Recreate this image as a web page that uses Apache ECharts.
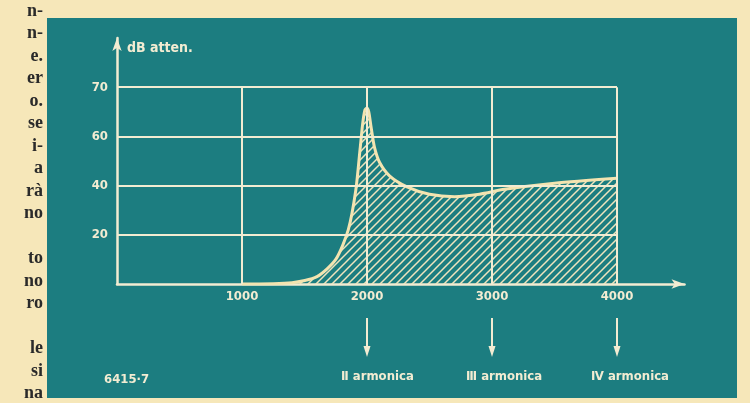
<!DOCTYPE html>
<html>
<head>
<meta charset="UTF-8">
<title>dB atten. - armoniche</title>
<style>
  * { margin: 0; padding: 0; }
  body { background: #f6e7b9; }
  #charts { width: 750px; height: 403px; }
</style>
</head>
<body>
<div id="charts"></div>
<script src="https://cdn.jsdelivr.net/npm/echarts@6/dist/echarts.min.js"></script>
<script>
  // frequenza (Hz) e attenuazione (scala lineare dell'asse)
  var freq  = [1000, 1400, 1600, 1750, 1850, 1910, 1945, 1965, 1982, 1998, 2014, 2032, 2060, 2100, 2180, 2320, 2500, 2700, 2900, 3100, 3500, 4000];
  var atten = [0, 0.5, 3, 10, 22, 38, 55, 65, 70.5, 71.5, 70, 64, 55.5, 49.5, 44, 39.5, 36.5, 35.5, 36.5, 38.5, 41, 43];

  // griglia disegnata
  var xGrid = [1000, 2000, 3000, 4000];
  var yGrid = [20, 40, 60, 80];
  var yTickLabels = ['20', '40', '60', '70'];   // l'ultima riga e' marcata 70 nell'originale
  var xTickLabels = ['1000', '2000', '3000', '4000'];

  // armoniche indicate sotto l'asse
  var harmFreq = [2000, 3000, 4000];
  var harmText = ['Ⅱ armonica', 'Ⅲ armonica', 'Ⅳ armonica'];

  // testo della pagina a sinistra (colonna tagliata)
  var pageText = ['n-', 'n-', 'e.', 'er', 'o.', 'se', 'i-', 'a', 'rà', 'no', '', 'to', 'no', 'ro', '', 'le', 'si', 'na'];

  var cream = '#f2ecd2';
  var curveCol = '#f3e4b0';
  var narrow = "'Liberation Sans Narrow', 'DejaVu Sans Condensed', sans-serif";

  function hatch() {
    var c = document.createElement('canvas');
    c.width = 8; c.height = 8;
    var g = c.getContext('2d');
    g.strokeStyle = '#efe4bd';
    g.lineWidth = 1.5;
    g.beginPath();
    g.moveTo(0, 8); g.lineTo(8, 0);
    g.moveTo(-2, 2); g.lineTo(2, -2);
    g.moveTo(6, 10); g.lineTo(10, 6);
    g.stroke();
    return c;
  }

  var gridLines = [];
  for (var i = 0; i < yGrid.length; i++) {
    gridLines.push([{ coord: [0, yGrid[i]] }, { coord: [4000, yGrid[i]] }]);
  }
  for (var j = 0; j < xGrid.length; j++) {
    gridLines.push([{ coord: [xGrid[j], 0] }, { coord: [xGrid[j], 80] }]);
  }

  var pageItems = [];
  for (var k = 0; k < pageText.length; k++) {
    pageItems.push({
      type: 'text', x: 43, y: 11 + k * 22.5,
      style: {
        text: pageText[k], fill: '#2a2a2a', align: 'right', verticalAlign: 'middle',
        font: 'bold 18px "Liberation Serif", "DejaVu Serif", serif'
      }
    });
  }

  var mycharts = echarts.init(document.getElementById('charts'));
  var option = {
    animation: false,
    backgroundColor: '#f6e7b9',
    grid: { left: 117, right: 65.5, top: 38, bottom: 119 },
    xAxis: {
      type: 'value', min: 0, max: 4540, interval: 1000,
      axisLine: {
        show: true, symbol: ['none', 'arrow'], symbolSize: [7, 13],
        lineStyle: { color: cream, width: 2.5 }
      },
      axisTick: { show: false },
      splitLine: { show: false },
      axisLabel: {
        color: cream, fontFamily: narrow, fontSize: 13, fontWeight: 'bold', margin: 6,
        showMaxLabel: false,
        formatter: function (v) {
          var n = xGrid.indexOf(v);
          return n >= 0 ? xTickLabels[n] : '';
        }
      }
    },
    yAxis: {
      type: 'value', min: 0, max: 100, interval: 20,
      name: 'dB atten.', nameLocation: 'end', nameGap: -10,
      nameTextStyle: {
        color: cream, fontFamily: narrow, fontSize: 14, fontWeight: 'bold',
        align: 'left', verticalAlign: 'middle', padding: [0, 0, 0, 10]
      },
      axisLine: {
        show: true, symbol: ['none', 'arrow'], symbolSize: [7, 13],
        lineStyle: { color: cream, width: 2.5 }
      },
      axisTick: { show: false },
      splitLine: { show: false },
      axisLabel: {
        color: cream, fontFamily: narrow, fontSize: 13, fontWeight: 'bold', margin: 9,
        formatter: function (v) {
          var n = yGrid.indexOf(v);
          return n >= 0 ? yTickLabels[n] : '';
        }
      }
    },
    graphic: [
      { type: 'rect', z: -10, shape: { x: 47, y: 18, width: 690, height: 380 }, style: { fill: '#1c7d80' } },
      {
        type: 'text', x: 104, y: 380,
        style: { text: '6415·7', fill: cream, font: 'bold 13px ' + narrow, verticalAlign: 'middle' }
      }
    ].concat(pageItems),
    series: [{
      type: 'line',
      data: freq.map(function (f, n) { return [f, atten[n]]; }),
      smooth: 0.25,
      showSymbol: false,
      lineStyle: { color: curveCol, width: 3 },
      areaStyle: { color: { image: hatch(), repeat: 'repeat' }, opacity: 1 },
      markLine: {
        silent: true, symbol: 'none', animation: false,
        label: { show: false },
        lineStyle: { color: cream, width: 2, type: 'solid' },
        data: gridLines
      },
      z: 3
    }]
  };
  mycharts.setOption(option);

  // frecce e nomi delle armoniche sotto l'asse, alla frequenza giusta
  var extra = [];
  for (var h = 0; h < harmFreq.length; h++) {
    var px = mycharts.convertToPixel({ xAxisIndex: 0 }, harmFreq[h]);
    extra.push({ type: 'line', shape: { x1: px, y1: 318, x2: px, y2: 350 }, style: { stroke: cream, lineWidth: 2 } });
    extra.push({ type: 'polygon', shape: { points: [[px - 3.5, 346], [px + 3.5, 346], [px, 357]] }, style: { fill: cream } });
    extra.push({
      type: 'text', x: px - 26, y: 377,
      style: { text: harmText[h], fill: cream, font: 'bold 13px ' + narrow, verticalAlign: 'middle' }
    });
  }
  option.graphic = option.graphic.concat(extra);
  mycharts.setOption(option);
</script>
</body>
</html>
